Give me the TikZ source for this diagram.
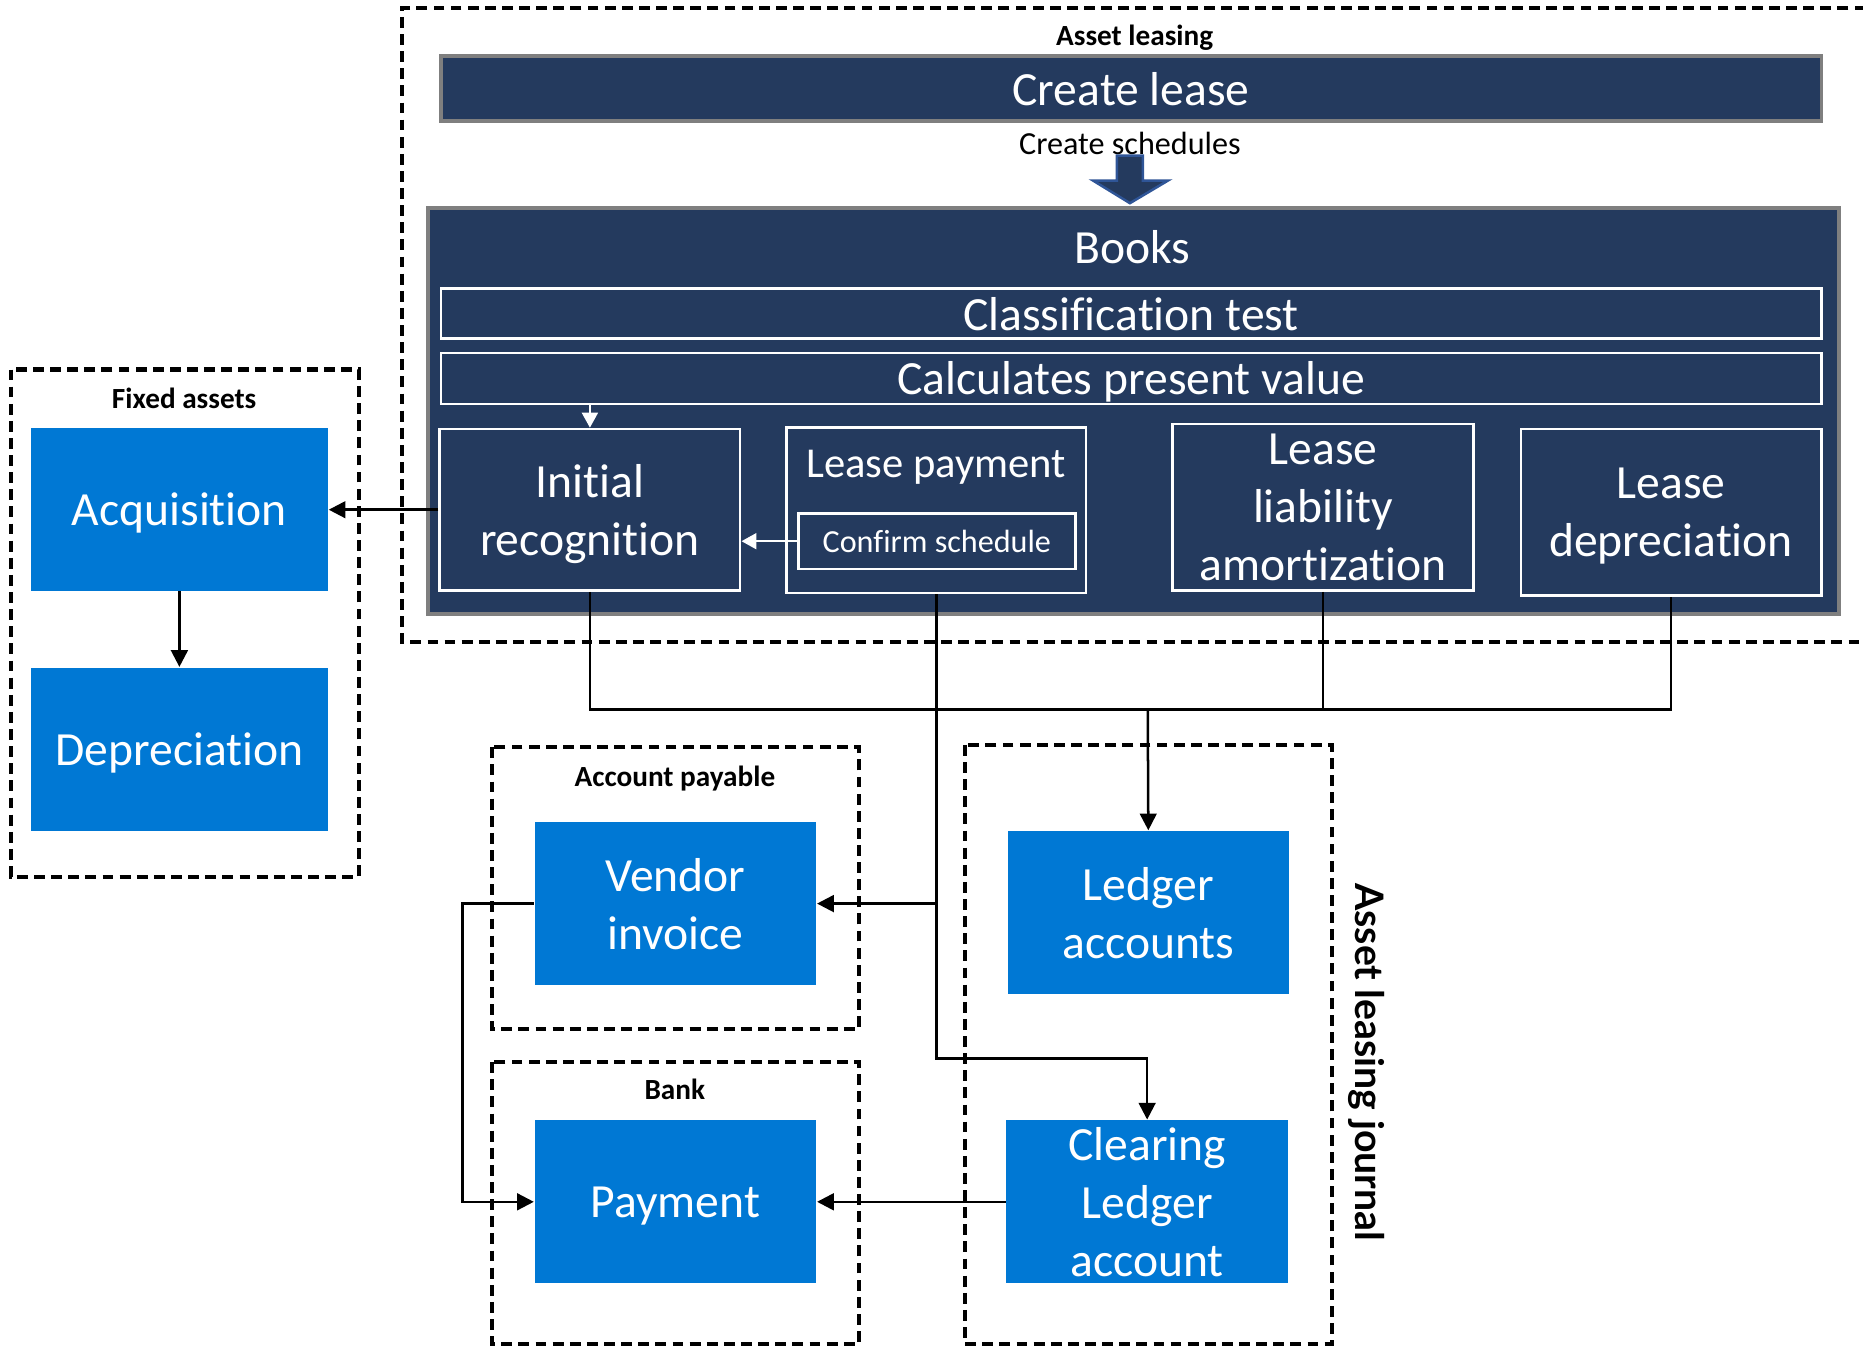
\documentclass[tikz,border=0pt]{standalone}
\usepackage{fontspec}
\setmainfont{Carlito}[Ligatures=NoCommon]
\newfontfamily\latofont{Lato}
\usetikzlibrary{arrows.meta,positioning}

\definecolor{navy}{HTML}{243A5E}
\definecolor{azure}{HTML}{0078D4}
\definecolor{bargray}{HTML}{7F7F7F}
\definecolor{arrowedge}{HTML}{2F5597}

\begin{document}
\begin{tikzpicture}[x=0.1mm,y=-0.1mm]
		\tikzset{
			bigtxt/.style={font=\fontsize{11.4}{13.9}\selectfont, text depth=0pt},
			midtxt/.style={font=\fontsize{10.2}{12.4}\selectfont, text depth=0pt},
			smalltxt/.style={font=\fontsize{7.7}{9.3}\selectfont, text depth=0pt},
			grouptitle/.style={font=\bfseries\fontsize{7}{8.4}\selectfont, text depth=0pt},
			navybar/.style={draw=bargray, line width=0.85pt, fill=navy, text=white},
			innerbox/.style={draw=white, line width=0.6pt, text=white, align=center, inner sep=0pt},
			bluebox/.style={fill=azure, text=white, align=center, inner sep=0pt,
					minimum width=23.7mm, minimum height=13.7mm, bigtxt},
			group/.style={draw, line width=1pt, dash pattern=on 2.6pt off 1.5pt},
			link/.style={line width=0.6pt},
			conn/.style={link, -{Triangle[length=4pt,width=4pt]}},
			wconn/.style={draw=white, line width=0.6pt, -{Triangle[length=3.6pt,width=3.8pt]}},
		}
		\useasboundingbox (0,0) rectangle (1568,1133);
		%
		% asset leasing
		\draw[group] (1570,7) -- (338,7) -- (338,540) -- (1570,540);
		\node[grouptitle] (leasingtitle) at (955,30) {Asset leasing};
		\node[navybar, bigtxt, minimum width=116.2mm, minimum height=5.5mm] (create) at (952,74.5) {Create lease};
		\node[smalltxt] (schedtxt) at (951,121) {Create schedules};
		\filldraw[fill=navy, draw=arrowedge, line width=0.6pt] (940,131) -- (962,131) -- (962,152) -- (983,152)
			-- (951,171) -- (920,152) -- (940,152) -- cycle;
		\node[navybar, minimum width=118.8mm, minimum height=34.2mm] (books) at (954,346) {};
		\node[bigtxt, text=white] (bookstitle) at (953,208) {Books};
		\node[innerbox, bigtxt, minimum width=116.2mm, minimum height=4.2mm] (classtest) at (952,264) {Classification test};
		\node[innerbox, bigtxt, minimum width=116.2mm, minimum height=4.3mm] (presval) at (952,318.5) {Calculates present value};
		\node[innerbox, bigtxt, minimum width=25.3mm, minimum height=13.6mm] (initrec) at (496.5,429) {Initial\\recognition};
		\node[innerbox, minimum width=25.2mm, minimum height=13.9mm] (leasepay) at (788,429.5) {};
		\node[midtxt, text=white] (paytitle) at (788,390) {Lease payment};
		\node[innerbox, smalltxt, minimum width=23.3mm, minimum height=4.7mm] (confirm) at (788.5,455.5) {Confirm schedule};
		\node[innerbox, bigtxt, minimum width=25.3mm, minimum height=14mm] (leaseliab) at (1113.5,427) {Lease\\liability\\amortization};
		\node[innerbox, bigtxt, minimum width=25.3mm, minimum height=14mm] (leasedep) at (1406.5,431) {Lease\\depreciation};
		\draw[wconn] (initrec.north |- presval.south) -- (initrec.north);
		\draw[wconn] (confirm.west) -- (confirm.west -| initrec.east);
		%
		% fixed assets
		\draw[group] (9,311) rectangle (302,738);
		\node[grouptitle] (fixedtitle) at (155,335) {Fixed assets};
		\node[bluebox, minimum width=25mm] (acq) at (151,428.5) {Acquisition};
		\node[bluebox, minimum width=25mm] (dep) at (151,630.5) {Depreciation};
		\draw[conn] (acq.south) -- (dep.north);
		\draw[conn] (initrec.west) -- (initrec.west -| acq.east);
		%
		% account payable, bank
		\draw[group] (414,629) rectangle (723,866);
		\node[grouptitle] (aptitle) at (568,653) {Account payable};
		\node[bluebox] (vendor) at (568.5,760.5) {Vendor\\invoice};
		\draw[group] (414,894) rectangle (723,1131);
		\node[grouptitle] (banktitle) at (568,917) {Bank};
		\node[bluebox] (payment) at (568.5,1011.5) {Payment};
		%
		% journal
		\draw[group] (812,627) rectangle (1121,1131);
		\node[font=\latofont\bfseries\fontsize{9.4}{11}\selectfont, rotate=-90] (journaltitle) at (1150,894) {Asset leasing journal};
		\node[bluebox] (ledger) at (966.5,768) {Ledger\\accounts};
		\node[bluebox] (clearing) at (965.5,1011.5) {Clearing\\Ledger\\account};
		%
		\coordinate (merge) at (966,597);
		\coordinate (paybend) at (788,891);
		\draw[link] (initrec.south) |- (merge) -| (leasedep.south);
		\draw[link] (leaseliab.south) -- (leaseliab.south |- merge);
		\draw[conn] (merge) -- (ledger.north);
		\draw[conn] (leasepay.south) -- (paybend) -| (clearing.north);
		\draw[conn] (leasepay.south |- vendor.east) -- (vendor.east);
		\draw[conn] (vendor.west) -- ++(-60,0) |- (payment.west);
		\draw[conn] (clearing.west) -- (payment.east);
\end{tikzpicture}
\end{document}
